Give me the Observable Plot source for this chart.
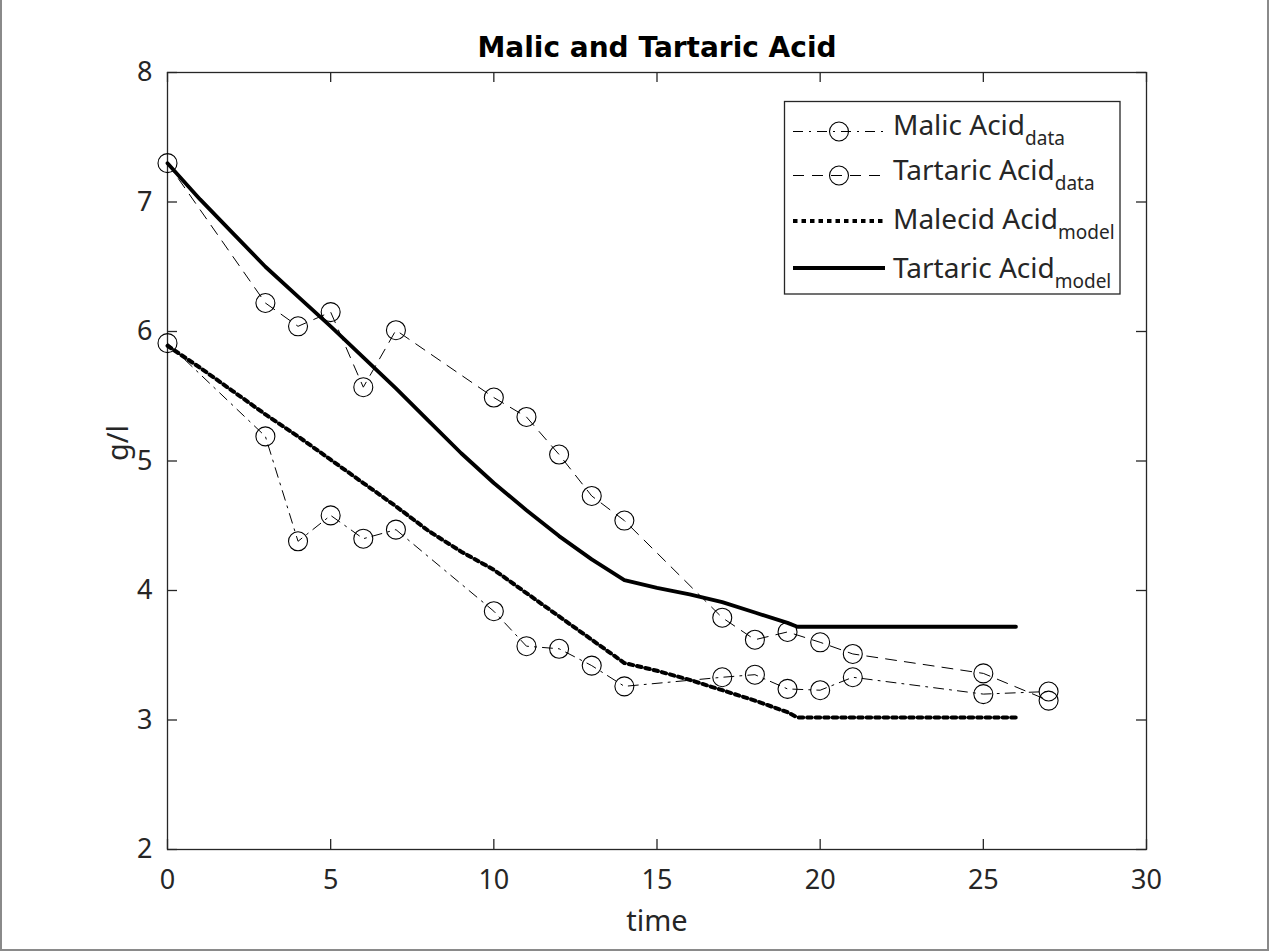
<!DOCTYPE html>
<html><head><meta charset="utf-8">
<script src="https://cdn.jsdelivr.net/npm/d3@7"></script>
<script src="https://cdn.jsdelivr.net/npm/@observablehq/plot@0.6"></script>
<style>
html,body{margin:0;padding:0;background:#fff;}
#fig{position:relative;width:1269px;height:952px;overflow:hidden;background:#fff;}
#border{position:absolute;left:0;top:0;width:1269px;height:951px;box-sizing:border-box;border:2px solid #8a8a8a;border-top:none;pointer-events:none;}
#legend{position:absolute;left:0;top:0;}
</style></head><body><div id="fig"></div>
<script>
// ---- data ----
const dataTimes = [0,3,4,5,6,7,10,11,12,13,14,17,18,19,20,21,25,27];
const malicData = [5.91,5.19,4.38,4.58,4.40,4.47,3.84,3.57,3.55,3.42,3.26,3.33,3.35,3.24,3.23,3.33,3.20,3.22];
const tartaricData = [7.30,6.22,6.04,6.15,5.57,6.01,5.49,5.34,5.05,4.73,4.54,3.79,3.62,3.68,3.60,3.51,3.36,3.15];

const modelTimes = [0,1,2,3,4,5,6,7,8,9,10,11,12,13,14,15,16,17,18,19,19.3,20,21,22,23,24,25,26];
const malicModel = [5.89,5.72,5.54,5.36,5.19,5.01,4.83,4.65,4.46,4.30,4.16,3.98,3.80,3.62,3.44,3.38,3.31,3.23,3.15,3.06,3.02,3.02,3.02,3.02,3.02,3.02,3.02,3.02];
const tartaricModel = [7.30,7.02,6.76,6.50,6.27,6.04,5.80,5.56,5.31,5.06,4.83,4.62,4.42,4.24,4.08,4.02,3.97,3.91,3.83,3.75,3.72,3.72,3.72,3.72,3.72,3.72,3.72,3.72];

const xTicks = [0,5,10,15,20,25,30];
const yTicks = [2,3,4,5,6,7,8];

const titleText = "Malic and Tartaric Acid";
const xLabel = "time";
const yLabel = "g/l";
const legendNames = ["Malic Acid","Tartaric Acid","Malecid Acid","Tartaric Acid"];
const legendSubs = ["data","data","model","model"];

// ---- build ----
const rows = (t, v) => t.map((x, i) => ({t: x, v: v[i]}));
const W = 1269, H = 952, mL = 167, mR = 123, mT = 72, mB = 103;
const frameW = W - mL - mR, frameH = H - mT - mB, tickLen = 10;
const ink = "#262626";

const dashDot = "10,6,2,6";
const dashed = "11,8";
const dotted = "4.5,4";

const plot = Plot.plot({
  width: W, height: H,
  marginLeft: mL, marginRight: mR, marginTop: mT, marginBottom: mB,
  style: {fontFamily: "'Noto Sans', sans-serif", fontSize: "27px", color: ink, background: "white", overflow: "visible"},
  x: {domain: [0, 30]},
  y: {domain: [2, 8]},
  marks: [
    Plot.frame({stroke: ink, strokeWidth: 1.3}),
    Plot.axisX(xTicks, {tickSize: 0, tickPadding: 20, label: null, tickFormat: d => String(d), fill: ink, fontSize: 27}),
    Plot.axisY(yTicks, {tickSize: 0, tickPadding: 15, label: null, tickFormat: d => String(d), fill: ink, fontSize: 27}),
    Plot.tickX(xTicks, {x: d => d, insetTop: frameH - tickLen, stroke: ink, strokeWidth: 1.3}),
    Plot.tickX(xTicks, {x: d => d, insetBottom: frameH - tickLen, stroke: ink, strokeWidth: 1.3}),
    Plot.tickY(yTicks, {y: d => d, insetRight: frameW - tickLen, stroke: ink, strokeWidth: 1.3}),
    Plot.tickY(yTicks, {y: d => d, insetLeft: frameW - tickLen, stroke: ink, strokeWidth: 1.3}),
    // data series
    Plot.line(rows(dataTimes, malicData), {x: "t", y: "v", stroke: "black", strokeWidth: 1, strokeDasharray: dashDot}),
    Plot.dot(rows(dataTimes, malicData), {x: "t", y: "v", r: 9.5, stroke: "black", strokeWidth: 1.1, fill: "none"}),
    Plot.line(rows(dataTimes, tartaricData), {x: "t", y: "v", stroke: "black", strokeWidth: 1, strokeDasharray: dashed}),
    Plot.dot(rows(dataTimes, tartaricData), {x: "t", y: "v", r: 9.5, stroke: "black", strokeWidth: 1.1, fill: "none"}),
    // model series
    Plot.line(rows(modelTimes, malicModel), {x: "t", y: "v", stroke: "black", strokeWidth: 4, strokeDasharray: dotted}),
    Plot.line(rows(modelTimes, tartaricModel), {x: "t", y: "v", stroke: "black", strokeWidth: 3.8}),
    // labels
    Plot.text([titleText], {text: d => d, frameAnchor: "top", lineAnchor: "middle", dy: -24, fontWeight: "bold", fontSize: 28, fontFamily: "'DejaVu Sans', sans-serif", fill: "black"}),
    Plot.text([xLabel], {text: d => d, frameAnchor: "bottom", lineAnchor: "middle", dy: 72, fontSize: 29, fill: ink}),
    Plot.text([yLabel], {text: d => d, frameAnchor: "left", lineAnchor: "middle", dx: -49, rotate: -90, fontSize: 29, fill: ink})
  ]
});

const fig = document.getElementById("fig");
fig.appendChild(plot);

// ---- legend overlay ----
const styles = [
  {dash: dashDot, w: 1, marker: true},
  {dash: dashed, w: 1, marker: true},
  {dash: dotted, w: 4, marker: false},
  {dash: null, w: 3.8, marker: false}
];
const lineY = [131.5, 175.5, 221, 268];
const baseY = [135, 179.5, 229, 278];
const svg = d3.select(fig).append("svg").attr("id", "legend").attr("width", W).attr("height", H);
svg.append("rect").attr("x", 784.5).attr("y", 101.5).attr("width", 335.5).attr("height", 192.5)
  .attr("fill", "white").attr("stroke", ink).attr("stroke-width", 1.3);
legendNames.forEach((name, i) => {
  const s = styles[i];
  const ln = svg.append("line").attr("x1", 793).attr("x2", 885).attr("y1", lineY[i]).attr("y2", lineY[i])
    .attr("stroke", "black").attr("stroke-width", s.w);
  if (s.dash) ln.attr("stroke-dasharray", s.dash);
  if (s.marker) svg.append("circle").attr("cx", 839).attr("cy", lineY[i]).attr("r", 9.5)
    .attr("fill", "none").attr("stroke", "black").attr("stroke-width", 1.1);
  const t = svg.append("text").attr("x", 893).attr("y", baseY[i])
    .attr("font-family", "'Noto Sans', sans-serif").attr("font-size", 28).attr("fill", ink);
  t.append("tspan").text(name);
  t.append("tspan").attr("dy", 10).attr("font-size", 19).text(legendSubs[i]);
});

const b = document.createElement("div"); b.id = "border"; fig.appendChild(b);
</script>
</body></html>
